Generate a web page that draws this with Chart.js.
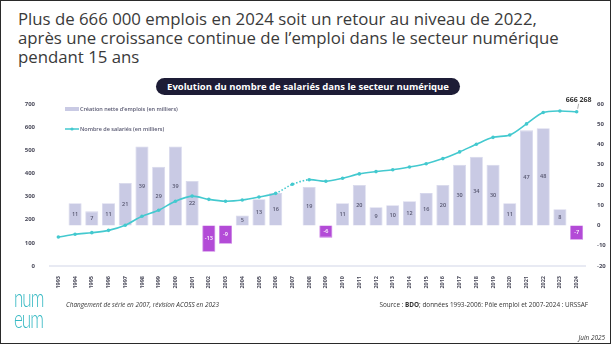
<!DOCTYPE html>
<html lang="fr">
<head>
<meta charset="utf-8">
<script src="https://cdn.jsdelivr.net/npm/chart.js@4.4.1/dist/chart.umd.min.js"></script>
<style>
  html, body { margin: 0; padding: 0; background: #fff; }
  .frame {
    position: relative; width: 611px; height: 344px; overflow: hidden;
    box-sizing: border-box; border: 1.5px solid #2a2a2a; background: #fff;
    font-family: "Open Sans", sans-serif;
  }
  h1 {
    position: absolute; left: 17px; top: 8px; margin: 0;
    font-size: 16.8px; font-weight: 400; line-height: 19px; color: #3a3a3a;
  }
  .banner {
    position: absolute; left: 155px; top: 77px; width: 304px; height: 17px;
    border-radius: 9px; background: #1d1c36; color: #fff;
    font-size: 9.5px; font-weight: 700; line-height: 17px; text-align: center;
  }
  canvas { position: absolute; left: 0; top: 0; }
  .note, .source, .date {
    position: absolute; font-size: 6.4px; font-style: italic; color: #333; white-space: nowrap;
  }
  .note { left: 65px; top: 299px; }
  .source { right: 22px; top: 299px; font-style: normal; }
  .date { right: 5px; top: 332px; }
  .logo {
    position: absolute; left: 13px; top: 286px; color: #36b9c3;
    font-family: "Lato", sans-serif; font-weight: 300; font-size: 25px;
    line-height: 21px; letter-spacing: -1.5px;
    transform: scaleX(0.68); transform-origin: left top;
  }
</style>
</head>
<body>
<div class="frame">
  <h1>Plus de 666 000 emplois en 2024 soit un retour au niveau de 2022,<br>après une croissance continue de l’emploi dans le secteur numérique<br>pendant 15 ans</h1>
  <div class="banner">Evolution du nombre de salariés dans le secteur numérique</div>
  <canvas id="chart" width="611" height="344"></canvas>
  <div class="note">Changement de série en 2007, révision ACOSS en 2023</div>
  <div class="source">Source : <b>BDO</b>; données 1993-2006: Pôle emploi et 2007-2024 : URSSAF</div>
  <div class="date">Juin 2025</div>
  <div class="logo">num<br>eum</div>
</div>
<script>
const years = ['1993', '1994', '1995', '1996', '1997', '1998', '1999', '2000', '2001', '2002', '2003',
  '2004', '2005', '2006', '2007', '2008', '2009', '2010', '2011', '2012', '2013', '2014', '2015',
  '2016', '2017', '2018', '2019', '2020', '2021', '2022', '2023', '2024'];

// net job creation, thousands (right axis)
const netCreation = [null, 11, 7, 11, 21, 39, 29, 39, 22, -13, -9,
  5, 13, 16, null, 19, -6, 11, 20, 9, 10, 12, 16,
  20, 30, 34, 30, 11, 47, 48, 8, -7];

// salaried headcount, thousands (left axis)
const salaries = [125, 137, 144, 154, 176, 215, 241, 280, 302, 288, 280,
  285, 298, 314, 353, 373, 366, 379, 398, 408, 416, 428, 442,
  464, 493, 526, 556, 566, 614, 663, 670, 666.268];

const leftTicks = [0, 700, 100];
const rightTicks = [-20, 60, 10];

const TEXT = '#4a4a5a';
const LINE = '#43c9cf';
const BAR = '#c9cae4';
const BAR_NEG = '#b34bd7';

const fmtThousands = (v) => String(Math.round(v * 1000)).replace(/\B(?=(\d{3})+(?!\d))/g, ' ');

const barLabels = {
  id: 'barLabels',
  afterDatasetsDraw(chart) {
    const ctx = chart.ctx;
    const meta = chart.getDatasetMeta(1);
    ctx.save();
    ctx.font = '600 5.5px "Open Sans"';
    ctx.textAlign = 'center';
    ctx.textBaseline = 'middle';
    meta.data.forEach((el, i) => {
      const v = netCreation[i];
      if (v == null) return;
      ctx.fillStyle = v < 0 ? '#fff' : '#55556e';
      ctx.fillText(v, el.x, (el.y + el.base) / 2);
    });
    ctx.restore();
  }
};

const lastValue = {
  id: 'lastValue',
  afterDatasetsDraw(chart) {
    const ctx = chart.ctx;
    const pts = chart.getDatasetMeta(0).data;
    const p = pts[pts.length - 1];
    ctx.save();
    ctx.strokeStyle = '#777';
    ctx.lineWidth = 0.6;
    ctx.beginPath();
    ctx.moveTo(p.x + 1, p.y - 3);
    ctx.lineTo(p.x + 2, p.y - 8);
    ctx.stroke();
    ctx.font = '700 7px "Open Sans"';
    ctx.fillStyle = '#333';
    ctx.textAlign = 'center';
    ctx.textBaseline = 'alphabetic';
    ctx.fillText(fmtThousands(salaries[salaries.length - 1]), p.x + 2, p.y - 10);
    ctx.restore();
  }
};

// legend sits inside the plot, stacked in the top-left corner
const innerLegend = {
  id: 'innerLegend',
  afterDraw(chart) {
    const ctx = chart.ctx;
    const x = chart.chartArea.left + 15;
    const y1 = chart.chartArea.top + 5;
    const y2 = chart.chartArea.top + 25;
    ctx.save();
    ctx.font = '600 5.5px "Open Sans"';
    ctx.textBaseline = 'middle';
    ctx.fillStyle = BAR;
    ctx.fillRect(x, y1 - 2, 14, 4);
    ctx.strokeStyle = LINE;
    ctx.lineWidth = 1.5;
    ctx.beginPath();
    ctx.moveTo(x, y2);
    ctx.lineTo(x + 14, y2);
    ctx.stroke();
    ctx.fillStyle = LINE;
    ctx.beginPath();
    ctx.arc(x + 7, y2, 1.6, 0, Math.PI * 2);
    ctx.fill();
    ctx.fillStyle = '#55556e';
    ctx.fillText(chart.data.datasets[1].label, x + 15, y1);
    ctx.fillText(chart.data.datasets[0].label, x + 15, y2);
    ctx.restore();
  }
};

new Chart(document.getElementById('chart'), {
  data: {
    labels: years,
    datasets: [
      {
        type: 'line',
        label: 'Nombre de salariés (en milliers)',
        data: salaries,
        yAxisID: 'y',
        borderColor: LINE,
        backgroundColor: LINE,
        borderWidth: 1.6,
        pointRadius: 1.8,
        pointBackgroundColor: LINE,
        pointBorderWidth: 0,
        tension: 0.3,
        segment: {
          // series break in 2007
          borderDash: (c) => (c.p0DataIndex >= 13 && c.p1DataIndex <= 15 ? [1.5, 1.8] : undefined)
        }
      },
      {
        type: 'bar',
        label: 'Création nette d’emplois (en milliers)',
        data: netCreation,
        yAxisID: 'y1',
        backgroundColor: netCreation.map((v) => (v < 0 ? BAR_NEG : BAR)),
        borderColor: netCreation.map((v) => (v < 0 ? '#c678e3' : '#d6d7ec')),
        borderWidth: 0.8,
        barPercentage: 0.78,
        categoryPercentage: 1
      }
    ]
  },
  options: {
    responsive: false,
    animation: false,
    layout: { padding: { top: 103, bottom: 54, left: 0, right: 0 } },
    plugins: {
      legend: { display: false },
      tooltip: { enabled: false }
    },
    scales: {
      x: {
        grid: { display: false },
        border: { display: true, color: '#e8eaf3', width: 2 },
        ticks: {
          autoSkip: false, maxRotation: 90, minRotation: 90, padding: 2,
          color: TEXT, font: { family: 'Open Sans', size: 5.5, weight: '700' }
        },
        afterFit: (s) => { s.height = 25; }
      },
      y: {
        position: 'left',
        min: leftTicks[0], max: leftTicks[1],
        grid: { display: false },
        border: { display: false },
        ticks: {
          stepSize: leftTicks[2], padding: 7,
          color: TEXT, font: { family: 'Open Sans', size: 6, weight: '700' }
        },
        afterFit: (s) => { s.width = 49; }
      },
      y1: {
        position: 'right',
        min: rightTicks[0], max: rightTicks[1],
        grid: { display: false },
        border: { display: false },
        ticks: {
          stepSize: rightTicks[2], padding: 4,
          color: TEXT, font: { family: 'Open Sans', size: 6, weight: '700' }
        },
        afterFit: (s) => { s.width = 27; }
      }
    }
  },
  plugins: [barLabels, lastValue, innerLegend]
});
</script>
</body>
</html>
